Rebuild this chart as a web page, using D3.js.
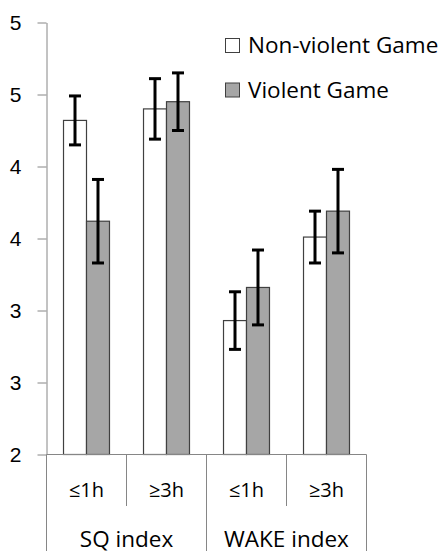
<!DOCTYPE html>
<html lang="en">
<head>
  <meta charset="UTF-8">
  <title>SQ / WAKE index</title>
  <script src="https://cdn.jsdelivr.net/npm/d3@7"></script>
  <style>
    body { margin: 0; background: #fff; }
    svg { display: block; font-family: 'Open Sans', sans-serif; }
  </style>
</head>
<body>
<svg></svg>
<script>
  const width = 446, height = 551

  // data
  const groups = ['SQ index', 'WAKE index']
  const categories = ['≤1h', '≥3h', '≤1h', '≥3h']
  const series = ['Non-violent Game', 'Violent Game']
  const nonViolent = [4.32, 4.40, 2.93, 3.51]
  const nonViolentErr = [0.17, 0.21, 0.20, 0.18]
  const violent = [3.62, 4.45, 3.16, 3.69]
  const violentErr = [0.29, 0.20, 0.26, 0.29]
  const yTicks = [2, 2.5, 3, 3.5, 4, 4.5, 5]

  const colors = ['#ffffff', '#a6a6a6']
  const axisColor = '#868686'

  const plot = {left: 46.5, right: 366.5, top: 22.5, bottom: 454.5}

  const svg = d3.select('svg')
      .attr('width', width)
      .attr('height', height)
      .attr('viewBox', [0, 0, width, height])

  const y = d3.scaleLinear()
      .domain([2, 5])
      .range([plot.bottom, plot.top])

  const x = d3.scaleBand()
      .domain(d3.range(categories.length))
      .range([plot.left, plot.right])

  const xs = d3.scaleBand()
      .domain(d3.range(series.length))
      .range([0, x.bandwidth()])
      .paddingInner(0)
      .paddingOuter(0.74)

  const rows = []
  categories.forEach((c, i) => {
    rows.push({cat: i, s: 0, v: nonViolent[i], e: nonViolentErr[i]})
    rows.push({cat: i, s: 1, v: violent[i], e: violentErr[i]})
  })

  // bars
  svg.append('g')
    .selectAll('rect')
    .data(rows)
    .join('rect')
      .attr('x', d => x(d.cat) + xs(d.s))
      .attr('y', d => y(d.v))
      .attr('width', xs.bandwidth())
      .attr('height', d => y(2) - y(d.v))
      .attr('fill', d => colors[d.s])
      .attr('stroke', '#404040')
      .attr('stroke-width', 1.2)

  // error bars
  const eb = svg.append('g')
      .attr('stroke', '#000')
      .attr('stroke-width', 3)
    .selectAll('g')
    .data(rows)
    .join('g')
      .attr('transform', d => `translate(${x(d.cat) + xs(d.s) + xs.bandwidth() / 2},0)`)
  eb.append('line')
      .attr('y1', d => y(d.v + d.e))
      .attr('y2', d => y(d.v - d.e))
  eb.append('line')
      .attr('x1', -6).attr('x2', 6)
      .attr('y1', d => y(d.v + d.e)).attr('y2', d => y(d.v + d.e))
  eb.append('line')
      .attr('x1', -6).attr('x2', 6)
      .attr('y1', d => y(d.v - d.e)).attr('y2', d => y(d.v - d.e))

  // y axis
  const yAxis = svg.append('g')
      .attr('transform', `translate(${plot.left},0)`)
      .call(d3.axisLeft(y)
        .tickValues(yTicks)
        .tickFormat(d3.format('.0f'))
        .tickSize(9)
        .tickSizeOuter(0)
        .tickPadding(16))
  yAxis.select('.domain').attr('stroke', axisColor)
  yAxis.selectAll('.tick line').attr('stroke', axisColor)
  yAxis.selectAll('.tick text')
      .attr('fill', '#000')
      .style('font-size', '21px')
      .style('font-family', 'inherit')

  // category axis
  const xAxis = svg.append('g').attr('stroke', axisColor).attr('stroke-width', 1)
  xAxis.append('line')
      .attr('x1', plot.left).attr('x2', plot.right)
      .attr('y1', plot.bottom).attr('y2', plot.bottom)
  const bounds = d3.range(categories.length + 1)
  xAxis.selectAll('.div')
    .data(bounds)
    .join('line')
      .attr('class', 'div')
      .attr('x1', i => plot.left + i * x.step())
      .attr('x2', i => plot.left + i * x.step())
      .attr('y1', plot.bottom)
      .attr('y2', i => i % 2 === 0 ? height : 506)

  svg.append('g')
      .style('font-size', '20px')
    .selectAll('text')
    .data(categories)
    .join('text')
      .attr('x', (d, i) => x(i) + x.bandwidth() / 2)
      .attr('y', 497)
      .attr('text-anchor', 'middle')
      .text(d => d)

  svg.append('g')
      .style('font-size', '22.5px')
    .selectAll('text')
    .data(groups)
    .join('text')
      .attr('x', (d, i) => plot.left + (i * 2 + 1) * x.step())
      .attr('y', 547)
      .attr('text-anchor', 'middle')
      .text(d => d)

  // legend
  const legend = svg.append('g')
      .selectAll('g')
      .data(series)
      .join('g')
      .attr('transform', (d, i) => `translate(225,${38 + i * 44.5})`)
  legend.append('rect')
      .attr('x', 0.5).attr('y', 0.5)
      .attr('width', 14).attr('height', 14)
      .attr('fill', (d, i) => colors[i])
      .attr('stroke', '#404040')
  legend.append('text')
      .attr('x', 23)
      .attr('y', 15)
      .style('font-size', '22.5px')
      .text(d => d)
</script>
</body>
</html>
